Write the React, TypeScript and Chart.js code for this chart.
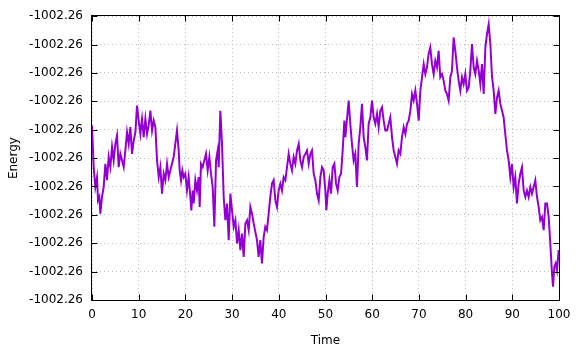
import { useEffect, useRef } from "react";
import { Chart, registerables } from "chart.js";

Chart.register(...registerables);

// Time values (x)
const times = [
  0, 0.36, 0.71, 1.07, 1.29, 1.57, 1.79, 2.14, 2.5, 2.86, 3.21, 3.57, 3.93, 4.29, 4.64, 5.0, 5.36, 5.71, 6.07, 6.43,
  6.79, 7.14, 7.5, 7.86, 8.21, 8.57, 8.93, 9.29, 9.64, 10.0, 10.36, 10.71, 11.07, 11.43, 11.79, 12.14, 12.5, 12.86, 13.21, 13.57,
  13.93, 14.29, 14.64, 15.0, 15.36, 15.71, 16.07, 16.43,
  17.13, 17.48, 17.84, 18.2, 18.56, 18.77, 19.06, 19.34, 19.63, 19.98, 20.34, 20.7, 21.06, 21.27, 21.56, 21.77, 22.13, 22.48,
  22.84, 23.06, 23.34, 23.7, 24.06, 24.41, 24.77, 25.13, 25.48, 25.84, 26.2, 26.56, 26.91, 27.13, 27.48, 27.84, 28.2, 28.56,
  28.91, 29.27, 29.63, 29.98, 30.34, 30.7, 31.06, 31.41, 31.77, 32.13, 32.48, 32.84, 33.2, 33.56, 33.91, 34.27, 34.63,
  35.33, 35.68, 36.04, 36.4, 36.76, 37.11, 37.47, 37.83, 38.18, 38.54, 38.9, 39.26, 39.61, 39.97, 40.33, 40.68, 41.04, 41.4,
  41.76, 42.11, 42.47, 42.83, 43.18, 43.54, 43.9, 44.26, 44.61, 44.97, 45.33, 45.68, 46.04, 46.4, 46.76, 47.11, 47.47, 47.83,
  48.18, 48.54, 48.9, 49.26, 49.61, 49.97, 50.18, 50.47, 50.83, 51.18, 51.54, 51.9, 52.26, 52.61, 52.97, 53.33, 53.68, 54.04,
  54.26, 54.96, 55.31, 55.67, 56.03, 56.38, 56.74, 57.1, 57.46, 57.81, 58.17, 58.53, 58.88, 59.24, 59.6, 59.96, 60.31, 60.67,
  61.03, 61.38, 61.74, 62.1, 62.46, 62.81, 63.17, 63.53, 63.88, 64.24, 64.6, 64.96, 65.31, 65.67, 66.03, 66.38, 66.74, 67.1,
  67.46, 67.81, 68.17, 68.53, 68.88, 69.24, 69.6, 69.96, 70.31, 70.67, 71.03,
  71.37, 71.73, 72.08, 72.44, 72.8, 73.16, 73.51, 73.87, 74.23, 74.58, 74.94, 75.3, 75.66, 76.01, 76.37, 76.73, 77.08, 77.44,
  77.8, 78.16, 78.51, 78.87, 79.23, 79.58, 79.94, 80.3, 80.66, 81.01, 81.37, 81.73, 82.08, 82.44, 82.8, 83.16, 83.51, 83.87,
  84.23, 84.58, 84.94, 85.3, 85.66, 86.01, 86.37, 86.73, 87.08, 87.44,
  88.14, 88.5, 88.86, 89.22, 89.57, 89.93, 90.29, 90.64, 91.0, 91.36, 91.72, 92.07, 92.43, 92.79, 93.14, 93.5, 93.86, 94.22,
  94.57, 94.93, 95.29, 95.64, 96.0, 96.36, 96.72, 97.07, 97.43, 97.79, 98.14, 98.5, 98.72, 99.0, 99.29, 99.57, 99.93,
];

// Energy values, as position within the displayed band (0 = bottom tick, 10 = top tick)
const energies = [
  6.15, 4.68, 3.98, 4.33, 3.51, 3.63, 3.04, 3.63, 3.98, 4.8, 4.22, 5.04, 4.68, 5.39, 4.92, 5.5, 5.8, 4.68, 5.15, 4.92,
  4.68, 5.27, 5.91, 5.5, 6.09, 5.15, 5.62, 5.91, 6.85, 6.32, 5.85, 6.38, 5.74, 6.38, 5.85, 6.15, 6.67, 5.97, 6.32, 6.09,
  4.92, 4.33, 4.68, 3.75, 4.45, 4.22, 4.8, 4.33,
  4.8, 5.04, 5.5, 5.97, 5.27, 4.57, 4.22, 4.57, 4.33, 4.45, 3.86, 4.33, 3.63, 3.16, 3.86, 3.4, 4.22, 3.86,
  4.33, 3.28, 4.8, 4.68, 4.92, 5.15, 4.57, 5.04, 4.45, 3.98, 2.58, 4.92, 5.27, 4.68, 6.67, 5.5, 3.63, 2.81,
  3.4, 2.11, 3.75, 3.16, 2.58, 2.81, 1.99, 2.46, 1.76, 2.34, 1.52, 2.69, 2.81, 2.46, 3.28, 3.04, 2.69,
  2.11, 1.52, 2.11, 1.29, 2.22, 2.58, 2.46, 3.04, 3.63, 4.1, 4.22, 3.51, 3.28, 3.86, 4.1, 3.86, 4.33, 4.22,
  4.68, 5.15, 4.8, 4.57, 5.04, 4.8, 5.27, 5.5, 4.92, 4.68, 5.04, 5.15, 5.27, 4.8, 5.15, 5.27, 4.45, 4.22,
  3.75, 3.51, 4.33, 4.68, 4.57, 3.86, 3.16, 3.75, 4.22, 3.75, 4.68, 4.8, 4.1, 3.86, 4.33, 4.45, 5.27, 6.32,
  5.74, 7.03, 6.21, 5.5, 4.92, 5.15, 3.98, 5.5, 6.09, 6.91, 5.74, 5.39, 4.92, 6.21, 6.44, 7.03, 6.44, 6.21,
  6.56, 6.09, 6.67, 6.79, 6.32, 5.97, 5.97, 6.21, 6.44, 5.74, 5.27, 5.04, 4.8, 5.27, 5.15, 5.74, 6.09, 5.85,
  6.21, 6.32, 6.67, 7.26, 7.03, 7.38, 6.91, 6.32, 7.38, 7.85, 8.31,
  7.96, 8.2, 8.67, 8.9, 8.31, 7.96, 8.43, 8.2, 8.78, 7.85, 7.96, 7.73, 7.38, 7.26, 7.03, 7.85, 8.08, 9.25,
  8.78, 8.2, 7.73, 7.38, 7.85, 7.61, 7.96, 7.38, 7.49, 8.08, 9.02, 8.2, 7.96, 8.43, 8.08, 7.61, 8.31, 7.26,
  8.9, 9.37, 9.72, 9.02, 7.85, 7.38, 6.56, 7.14, 7.38, 6.91,
  6.44, 5.85, 5.27, 4.92, 4.33, 4.8, 3.98, 4.33, 3.4, 4.1, 4.45, 4.68, 3.86, 3.63, 3.86, 3.63, 3.98, 3.75,
  3.98, 4.22, 3.63, 3.28, 2.81, 2.93, 2.46, 3.4, 3.4, 2.93, 1.99, 0.94, 0.47, 1.17, 1.29, 1.05, 1.76,
];

const xTickValues = [0, 10, 20, 30, 40, 50, 60, 70, 80, 90, 100];
const yTickLabels = [
  "-1002.26", "-1002.26", "-1002.26", "-1002.26", "-1002.26", "-1002.26",
  "-1002.26", "-1002.26", "-1002.26", "-1002.26", "-1002.26",
];
const xTitle = "Time";
const yTitle = "Energy";

const FONT = "'DejaVu Sans', sans-serif";

const framePlugin = {
  id: "gnuplotFrame",
  afterDraw(chart: any) {
    const { ctx, chartArea } = chart;
    const { left, right, top, bottom } = chartArea;
    const xs = chart.scales.x;
    const ys = chart.scales.y;
    ctx.save();
    ctx.strokeStyle = "#000";
    ctx.lineWidth = 1;
    ctx.setLineDash([]);
    const L = Math.round(left) - 0.5;
    const R = Math.round(right) + 0.5;
    const T = Math.round(top) - 0.5;
    const B = Math.round(bottom) + 0.5;
    ctx.strokeRect(L, T, R - L, B - T);
    const tl = 6;
    ctx.beginPath();
    for (const v of xTickValues) {
      const px = Math.round(xs.getPixelForValue(v)) + 0.5;
      ctx.moveTo(px, B);
      ctx.lineTo(px, B - tl);
      ctx.moveTo(px, T);
      ctx.lineTo(px, T + tl);
    }
    for (let i = 0; i < yTickLabels.length; i++) {
      const py = Math.round(ys.getPixelForValue(i)) + 0.5;
      ctx.moveTo(L, py);
      ctx.lineTo(L + tl, py);
      ctx.moveTo(R, py);
      ctx.lineTo(R - tl, py);
    }
    ctx.stroke();
    ctx.restore();
  },
};

export default function App() {
  const ref = useRef<HTMLCanvasElement>(null);
  useEffect(() => {
    document.body.style.margin = "0";
    const canvas = ref.current;
    if (!canvas) return;
    const points = times.map((t, i) => ({ x: t, y: energies[i] }));
    const chart = new Chart(canvas, {
      type: "line",
      data: {
        datasets: [
          {
            data: points,
            borderColor: "#9400d3",
            borderWidth: 2,
            pointRadius: 0,
            tension: 0,
            fill: false,
          },
        ],
      },
      options: {
        animation: false,
        responsive: true,
        maintainAspectRatio: false,
        parsing: false as any,
        layout: { padding: { top: 15, right: 22, bottom: 0, left: 0 } },
        plugins: { legend: { display: false }, tooltip: { enabled: false } },
        scales: {
          x: {
            type: "linear",
            min: 0,
            max: 100,
            afterFit: (s: any) => {
              s.height = 49;
            },
            afterBuildTicks: (s: any) => {
              s.ticks = xTickValues.map((v) => ({ value: v }));
            },
            ticks: {
              padding: 8,
              color: "#000",
              font: { family: FONT, size: 12 },
              maxRotation: 0,
            },
            grid: {
              drawTicks: false,
              color: "#b8b8b8",
              lineWidth: 1,
            },
            border: { display: false, dash: [1, 3] },
            title: {
              display: true,
              text: xTitle,
              color: "#000",
              font: { family: FONT, size: 12 },
              padding: { top: 0, bottom: 1 },
            },
          },
          y: {
            type: "linear",
            min: 0,
            max: 10,
            afterFit: (s: any) => {
              s.width = 92;
            },
            ticks: {
              stepSize: 1,
              padding: 9,
              color: "#000",
              font: { family: FONT, size: 12 },
              callback: (_v: any, i: number) => yTickLabels[i],
            },
            grid: {
              drawTicks: false,
              color: "#b8b8b8",
              lineWidth: 1,
            },
            border: { display: false, dash: [1, 3] },
            title: {
              display: true,
              text: yTitle,
              color: "#000",
              font: { family: FONT, size: 12 },
              padding: { top: 7, bottom: 0 },
            },
          },
        },
      },
      plugins: [framePlugin],
    });
    return () => chart.destroy();
  }, []);
  return (
    <div style={{ position: "relative", width: 581, height: 349 }}>
      <canvas ref={ref} />
    </div>
  );
}
